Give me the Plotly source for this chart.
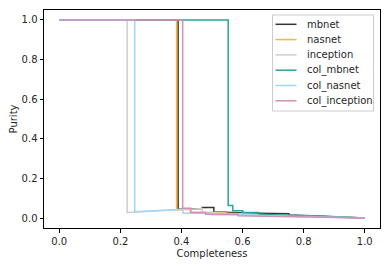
import plotly.graph_objects as go

names = ["mbnet", "nasnet", "inception", "col_mbnet", "col_nasnet", "col_inception"]
colors = ["#333333", "#FFB733", "#CDCDCD", "#2AA39B", "#9FD6FB", "#D48FB8"]

mbnet_c = [0.0, 0.389, 0.389, 0.468, 0.468, 0.506, 0.506, 0.60, 0.752, 0.752, 0.85, 1.0]
mbnet_p = [1.0, 1.0, 0.045, 0.048, 0.054, 0.054, 0.032, 0.026, 0.022, 0.015, 0.010, 0.0]

nasnet_c = [0.0, 0.384, 0.384, 0.43, 0.43, 0.53, 0.55, 0.70, 1.0]
nasnet_p = [1.0, 1.0, 0.042, 0.045, 0.028, 0.030, 0.025, 0.015, 0.0]

inception_c = [0.0, 0.222, 0.222, 0.40, 0.43, 0.468, 0.468, 0.60, 1.0]
inception_p = [1.0, 1.0, 0.028, 0.045, 0.048, 0.048, 0.030, 0.020, 0.0]

col_mbnet_c = [0.0, 0.553, 0.553, 0.568, 0.568, 0.601, 0.601, 0.653, 0.653, 0.80, 1.0]
col_mbnet_p = [1.0, 1.0, 0.064, 0.064, 0.037, 0.037, 0.028, 0.028, 0.020, 0.012, 0.0]

col_nasnet_c = [0.0, 0.247, 0.247, 0.40, 0.405, 0.405, 0.50, 0.50, 0.58, 1.0]
col_nasnet_p = [1.0, 1.0, 0.032, 0.045, 0.045, 0.025, 0.025, 0.017, 0.015, 0.0]

col_inception_c = [0.0, 0.404, 0.404, 0.43, 0.43, 0.479, 0.479, 0.585, 0.585, 1.0]
col_inception_p = [1.0, 1.0, 0.050, 0.050, 0.028, 0.028, 0.020, 0.020, 0.012, 0.0]

series = [
    (mbnet_c, mbnet_p),
    (nasnet_c, nasnet_p),
    (inception_c, inception_p),
    (col_mbnet_c, col_mbnet_p),
    (col_nasnet_c, col_nasnet_p),
    (col_inception_c, col_inception_p),
]

x_ticks = [0.0, 0.2, 0.4, 0.6, 0.8, 1.0]
y_ticks = [0.0, 0.2, 0.4, 0.6, 0.8, 1.0]

# page body has an 8px default margin: size the figure to fit the window
OFF = 8
W, H = 389 - OFF, 266 - OFF
ML, MR, MT, MB = 44 - OFF, 9, 10 - OFF, 38
PW, PH = W - ML - MR, H - MT - MB


def px_x(px):
    # window pixel -> paper coordinate
    return (px - OFF - ML) / PW


def px_y(py):
    return (H - MB - (py - OFF)) / PH


TXT = "#262626"
FONT = "DejaVu Sans"

fig = go.Figure()
for name, color, (c, p) in zip(names, colors, series):
    fig.add_trace(go.Scatter(x=c, y=p, mode="lines", name=name, showlegend=False,
                             line=dict(color=color, width=1.5)))

# legend drawn as a matplotlib-style box
shapes = [dict(type="rect", xref="paper", yref="paper",
               x0=px_x(272.5), x1=px_x(373.5), y0=px_y(111), y1=px_y(15),
               line=dict(color="#CCCCCC", width=1), fillcolor="rgba(255,255,255,0.8)",
               layer="above")]
annotations = []
for i, (name, color) in enumerate(zip(names, colors)):
    yc = 24.3 + i * 15.3
    shapes.append(dict(type="line", xref="paper", yref="paper",
                       x0=px_x(275.5), x1=px_x(296.5), y0=px_y(yc), y1=px_y(yc),
                       line=dict(color=color, width=1.5), layer="above"))
    annotations.append(dict(xref="paper", yref="paper", x=px_x(304.5), y=px_y(yc),
                            xanchor="left", yanchor="middle", text=name, showarrow=False,
                            font=dict(family=FONT, size=10, color=TXT)))

axis_common = dict(showline=True, linecolor="black", linewidth=1, mirror=True,
                   ticks="outside", ticklen=3.5, tickwidth=1, tickcolor="black",
                   showgrid=False, zeroline=False, tickformat=".1f", automargin=False,
                   tickfont=dict(family=FONT, size=10, color=TXT))

fig.update_layout(
    width=W, height=H,
    margin=dict(l=ML, r=MR, t=MT, b=MB),
    plot_bgcolor="white", paper_bgcolor="white",
    font=dict(family=FONT, size=10, color=TXT),
    showlegend=False,
    shapes=shapes, annotations=annotations,
)
fig.update_xaxes(range=[-0.05, 1.05], tickvals=x_ticks,
                 title=dict(text="Completeness", standoff=4,
                            font=dict(family=FONT, size=10, color=TXT)),
                 **axis_common)
fig.update_yaxes(range=[-0.05, 1.05], tickvals=y_ticks,
                 title=dict(text="Purity", standoff=4,
                            font=dict(family=FONT, size=10, color=TXT)),
                 **axis_common)

fig.write_html("out.html")
